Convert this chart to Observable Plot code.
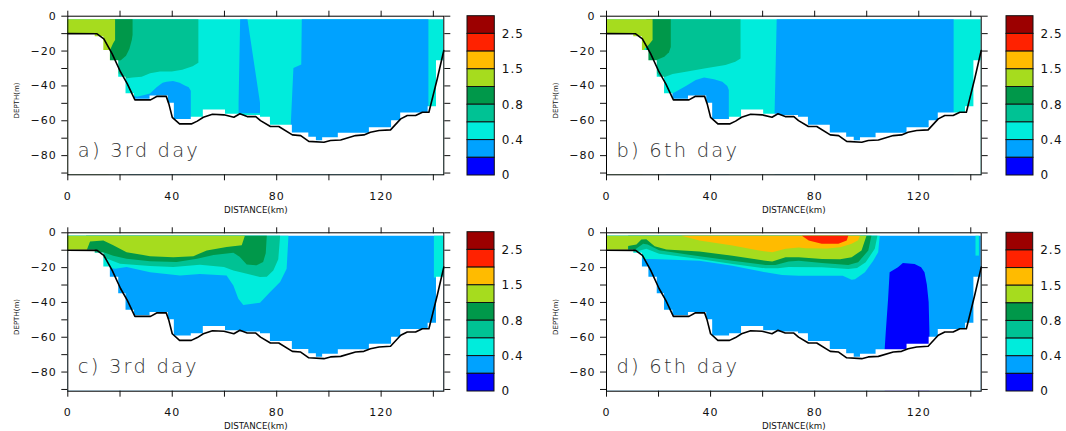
<!DOCTYPE html>
<html><head><meta charset="utf-8">
<script src="https://cdn.jsdelivr.net/npm/d3@7"></script>
<script src="https://cdn.jsdelivr.net/npm/@observablehq/plot@0.6"></script>
<style>
body{margin:0;background:#fff;}
#root{position:relative;width:1066px;height:431px;overflow:hidden;background:#fff;}
.p{position:absolute;}
.p svg{max-width:none !important;}
</style></head><body><div id="root"></div>
<script>
// ---------- data ----------
// colour classes, top of colour bar (>2.5) to bottom (0-0.2)
const CLASS_COLORS = ["#9c0000","#ff2200","#ffbb00","#a6dc1e","#00984a","#00c294","#00ecdc","#00a2ff","#0000ff"];
const LEVEL_TICKS = [0, 2, 4, 6, 8];
const LEVEL_LABELS = ["0", "0.4", "0.8", "1.5", "2.5"];
const X_DOMAIN = [0, 144];
const Y_DOMAIN = [-91, 0];
const X_TICKS = [0, 20, 40, 60, 80, 100, 120, 140];
const X_LABELED = [0, 40, 80, 120];
const Y_TICKS = [-90, -80, -70, -60, -50, -40, -30, -20, -10, 0];
const Y_LABELED = [0, -20, -40, -60, -80];
const PANEL_LABELS = ["a) 3rd day", "b) 6th day", "c) 3rd day", "d) 6th day"];

// bottom topography line [distance km, depth m]
const BATHY = [[0,-10],[11.2,-10.1],[13.8,-13],[17,-21.6],[20.2,-32],[22.8,-38.8],[25.7,-48],[31.7,-48],[34.2,-45.9],[37.7,-46],[38.7,-50.3],[40,-58],[42.8,-61.8],[47.3,-61.8],[49.6,-60.2],[51.9,-58],[55.4,-56.3],[59.8,-56.6],[63.6,-58],[65.9,-56],[68.7,-57.6],[72,-57.6],[73.8,-59.9],[77.6,-63.3],[80.8,-63.3],[86,-68.1],[89.2,-68.5],[92.3,-71.8],[98.1,-72.3],[100.6,-71.3],[104.5,-71],[110.2,-68.5],[113.4,-68.1],[115.9,-66.6],[119.2,-65.6],[123.6,-65.2],[127.5,-58.9],[130,-57],[133.2,-57],[135.8,-55.1],[138.3,-55.1],[141.5,-35.9],[144,-19.7]];

// stepped lower limit of the gridded field [distance, depth]
const FILL_BOTTOM = [[0,-10],[10.5,-11.8],[13.8,-19.7],[16.3,-25.5],[19.5,-35],[22.3,-44.5],[25.5,-47.7],[31.5,-45.8],[38.5,-50],[40.8,-59.3],[47.3,-58],[51.9,-53.8],[60.4,-56.3],[66,-57],[73.8,-58],[77.6,-62.5],[86,-67],[92.3,-69.5],[95.2,-71.5],[97.6,-69.8],[103.6,-67.2],[115.5,-64],[124,-60],[127.5,-55.5],[138,-52],[141.2,-25.5],[144,-25.5]];

// filled regions, painted in order: c = colour class, pts = [distance, lower depth, upper depth]
const LAYERS_A = [
  {c:6, pts:[[0,-91,-2],[144,-91,-2]]},
  {c:5, pts:[[18,-30,-2],[19.5,-33,-2],[22,-36,-2],[25,-35.5,-2],[28.5,-35,-2],[31.7,-33,-2],[35.5,-32,-2],[40,-32,-2],[44,-31,-2],[48,-29,-2],[50.2,-27,-2]]},
  {c:4, pts:[[16.3,-26,-2],[18.5,-26,-2],[20.5,-25.5,-2],[22.5,-23,-2],[23.8,-19,-2],[24.7,-14,-2],[25,-11,-2]]},
  {c:3, pts:[[0,-91,-2],[15.8,-91,-2],[16.3,-20,-2],[17.5,-16,-2],[18.3,-14,-2]]},
  {c:7, pts:[[23.5,-91,-45],[26.6,-91,-46.5],[29.5,-91,-45.5],[31.7,-91,-44.6],[34.2,-91,-41],[36.5,-91,-38.5],[38,-91,-37.9],[40.5,-91,-37.5],[43,-91,-38.5],[45,-91,-40],[46.5,-91,-41],[47.3,-91,-43]]},
  {c:7, pts:[[65.6,-56,-50],[66.2,-56,-2],[69,-56,-2],[71.4,-56,-26],[73.8,-56,-50]]},
  {c:7, pts:[[85.6,-91,-62],[86.6,-91,-30],[89.6,-91,-28],[89.8,-91,-2],[138.3,-91,-2]]}
];
const LAYERS_B = [
  {c:6, pts:[[0,-91,-2],[144,-91,-2]]},
  {c:5, pts:[[18,-30,-2],[21.1,-36,-2],[25.6,-33.5,-2],[30.7,-32.1,-2],[38.3,-30.2,-2],[45.9,-28.3,-2],[49.7,-26.4,-2],[51.7,-24.5,-2]]},
  {c:4, pts:[[15.5,-26,-2],[17.9,-26,-2],[19.2,-25.5,-2],[22.4,-23.5,-2],[24.2,-21,-2],[24.9,-18,-2]]},
  {c:3, pts:[[0,-91,-2],[14,-91,-2],[14.8,-19,-2],[16.5,-16.5,-2],[17.9,-14,-2]]},
  {c:7, pts:[[23,-91,-46.5],[26.8,-91,-43.6],[30.7,-91,-40.4],[34.5,-91,-36.9],[37.7,-91,-35.4],[41.5,-91,-36.5],[44.7,-91,-37.9],[46.6,-91,-40.4],[47.2,-91,-42.7]]},
  {c:7, pts:[[64.8,-91,-55],[65.6,-91,-2],[133.6,-91,-2]]}
];
const LAYERS_C = [
  {c:7, pts:[[0,-91,-2],[144,-91,-2]]},
  {c:6, pts:[[0,-12,-2],[14,-20,-2],[18.3,-21,-2],[22.7,-20,-2],[31.7,-22.9,-2],[43.2,-24.8,-2],[50.8,-23.9,-2],[61,-24.8,-2],[63.6,-30.6,-2],[65.5,-38.2,-2],[67.4,-41.7,-2],[73.8,-40.5,-2],[77.6,-34.4,-2],[81.5,-28.6,-2],[84,-21,-2],[84.7,-2,-2]]},
  {c:5, pts:[[0,-11,-2],[15,-15,-2],[20.2,-18,-2],[31.7,-19.4,-2],[40.6,-20,-2],[50.8,-18.7,-2],[60,-20,-2],[63.6,-21.9,-2],[68,-23.5,-2],[73.8,-25.7,-2],[76.4,-25.5,-2],[78.9,-22,-2],[80.8,-15.5,-2],[81.5,-2,-2]]},
  {c:4, pts:[[7.2,-10.5,-2],[11,-11,-2],[13.8,-11.5,-2],[17.6,-13.5,-2],[22.7,-15.2,-2],[31.7,-16.7,-2],[41.9,-17.1,-2],[49.7,-15.2,-2],[56,-13,-2],[63.6,-11.8,-2],[66,-14,-2],[68.7,-18.5,-2],[72.5,-19,-2],[75,-17.1,-2],[76,-12,-2],[76.4,-2,-2]]},
  {c:3, pts:[[0,-12,-2],[7,-12,-2],[8.7,-5.3,-2],[13.8,-4.7,-2],[17.6,-7.5,-2],[22.7,-11.4,-2],[31.7,-13.7,-2],[40.6,-14.3,-2],[48.3,-13.7,-2],[53.4,-10.4,-2],[61,-8.5,-2],[66.8,-7.5,-2],[68,-2,-2]]},
  {c:6, pts:[[140.4,-26,-2],[144,-26,-2]]}
];
const LAYERS_D = [
  {c:7, pts:[[0,-91,-2],[144,-91,-2]]},
  {c:6, pts:[[0,-12,-2],[13,-14,-2],[14.7,-15.3,-2],[18,-15.3,-2],[35.9,-16.3,-2],[48.6,-19.2,-2],[61.3,-23,-2],[67.7,-24.5,-2],[74.1,-25,-2],[83,-25,-2],[91,-25,-2],[94.4,-27.2,-2],[95.7,-27,-2],[99.5,-23,-2],[102.7,-16.3,-2],[104.6,-11.4,-2],[105.2,-2,-2]]},
  {c:5, pts:[[0,-11,-2],[11.7,-11,-2],[15.5,-9.5,-2],[20.4,-12.3,-2],[35.9,-15.3,-2],[48.6,-18.2,-2],[61.3,-20.7,-2],[66,-20.7,-2],[70.2,-20,-2],[83,-20.1,-2],[93.1,-21.1,-2],[96.5,-20.5,-2],[99.8,-17.2,-2],[103.3,-9.5,-2],[104.3,-2,-2]]},
  {c:4, pts:[[8.5,-10.5,-2],[11,-10,-2],[14.3,-6.6,-2],[16,-7,-2],[20.4,-10.3,-2],[35.9,-13.8,-2],[48.6,-16.3,-2],[61.3,-18.8,-2],[65.1,-18.8,-2],[70.2,-16.8,-2],[74.1,-16.3,-2],[83,-17.6,-2],[93.1,-18.8,-2],[96.9,-17.2,-2],[100.8,-10.5,-2],[102,-2,-2]]},
  {c:3, pts:[[0,-12,-2],[8.4,-12,-2],[8.5,-7.9,-2],[11.7,-7,-2],[13.6,-4.2,-2],[15.5,-4,-2],[18.7,-8,-2],[23.2,-9.9,-2],[35.9,-11,-2],[48.6,-13.4,-2],[61.3,-16.3,-2],[63.9,-16.8,-2],[69,-14.3,-2],[74.1,-14.3,-2],[83,-15.3,-2],[90,-15.5,-2],[94.4,-14.3,-2],[98.2,-10.5,-2],[100.1,-2,-2]]},
  {c:2, pts:[[28.9,-2,-2],[35.9,-4.7,-2],[48.6,-7.6,-2],[58.8,-10.5,-2],[63.9,-11.5,-2],[69,-9.5,-2],[74.1,-8.7,-2],[76.6,-9.1,-2],[85,-9.3,-2],[90,-8.6,-2],[94.4,-6.6,-2],[96.9,-4.5,-2],[97.6,-2,-2]]},
  {c:1, pts:[[75.3,-2,-2],[77.9,-4.7,-2],[82.9,-6.6,-2],[89.3,-6.6,-2],[92.5,-4.7,-2],[93.1,-2,-2]]},
  {c:8, pts:[[107.1,-91,-67],[107.5,-91,-57.6],[108.4,-91,-38.4],[109,-91,-23],[112.2,-91,-20.1],[114.1,-91,-17.6],[118.6,-91,-18.2],[121.1,-91,-20.1],[122.4,-91,-23],[123.3,-91,-30],[124,-91,-40],[124.3,-91,-58]]},
  {c:6, pts:[[142,-13.4,-2],[143.3,-13.4,-2]]}
];

// ---------- layout ----------
const LAYOUT = [
  {layers: LAYERS_A, label: PANEL_LABELS[0], left: 0,   top: 0,   h: 215, mt: 15.7, mb: 40.7, ml: 67.3, mr: 89.7, cb: {left: 466.7, w: 27.3, top: 15.7, bottom: 175}},
  {layers: LAYERS_B, label: PANEL_LABELS[1], left: 533, top: 0,   h: 215, mt: 15.7, mb: 40.7, ml: 73,   mr: 85.3, cb: {left: 1005.7, w: 27, top: 15.7, bottom: 175}},
  {layers: LAYERS_C, label: PANEL_LABELS[2], left: 0,   top: 215, h: 216, mt: 17.3, mb: 40.3, ml: 67.3, mr: 89.7, cb: {left: 467.3, w: 27, top: 231.7, bottom: 391}},
  {layers: LAYERS_D, label: PANEL_LABELS[3], left: 533, top: 215, h: 216, mt: 17.3, mb: 40.3, ml: 73,   mr: 85.3, cb: {left: 1006, w: 26.7, top: 232.3, bottom: 391}}
];

const fmt = d => d < 0 ? "\u2212" + (-d) : String(d);
const root = document.getElementById("root");
const baseStyle = {fontFamily: "DejaVu Sans, Verdana, sans-serif", fontSize: "11px", letterSpacing: "1px", color: "#111", background: "transparent", overflow: "visible", maxWidth: "none"};

function place(node, left, top, w, h) {
  const div = document.createElement("div");
  div.className = "p";
  div.style.left = left + "px";
  div.style.top = top + "px";
  div.style.width = w + "px";
  div.style.height = h + "px";
  div.appendChild(node);
  root.appendChild(div);
}

for (const P of LAYOUT) {
  const marks = [];
  for (const L of P.layers) {
    marks.push(Plot.areaY(L.pts, {x: d => d[0], y1: d => d[1], y2: d => d[2], fill: CLASS_COLORS[L.c], curve: "linear"}));
  }
  marks.push(Plot.areaY(FILL_BOTTOM, {x: d => d[0], y1: Y_DOMAIN[0], y2: d => d[1], fill: "white", curve: "step-after"}));
  marks.push(Plot.line(BATHY, {x: d => d[0], y: d => d[1], stroke: "#000", strokeWidth: 1.6, strokeLinejoin: "round"}));
  marks.push(Plot.frame({stroke: "#000", strokeWidth: 1}));
  marks.push(Plot.axisX({anchor: "bottom", ticks: X_TICKS, tickSize: 6, tickPadding: 11, tickFormat: d => X_LABELED.includes(d) ? fmt(d) : "", label: null}));
  marks.push(Plot.axisX({anchor: "top", ticks: X_TICKS, tickSize: 6, tickFormat: () => "", label: null}));
  marks.push(Plot.axisY({anchor: "left", ticks: Y_TICKS, tickSize: 6, tickPadding: 5, tickFormat: d => Y_LABELED.includes(d) ? fmt(d) : "", label: null}));
  marks.push(Plot.axisY({anchor: "right", ticks: Y_TICKS, tickSize: 6, tickFormat: () => "", label: null}));
  marks.push(Plot.text([P.label], {text: d => d, frameAnchor: "bottom-left", dx: 10, dy: -18, textAnchor: "start", lineAnchor: "bottom", fontSize: 19.5, fontWeight: 200, fill: "#333"}));
  marks.push(Plot.text(["DISTANCE(km)"], {text: d => d, frameAnchor: "bottom", dy: 38, textAnchor: "middle", lineAnchor: "bottom", fontSize: 8.7, fill: "#111"}));
  marks.push(Plot.text(["DEPTH(m)"], {text: d => d, frameAnchor: "left", dx: -51, dy: 5, rotate: -90, textAnchor: "middle", lineAnchor: "middle", fontSize: 7, fill: "#111"}));

  const svg = Plot.plot({
    width: 533, height: P.h,
    marginLeft: P.ml, marginRight: P.mr, marginTop: P.mt, marginBottom: P.mb,
    x: {domain: X_DOMAIN, axis: null},
    y: {domain: Y_DOMAIN, axis: null},
    style: baseStyle,
    marks
  });
  d3.select(svg).selectAll("text").each(function() {
    const t = this.textContent;
    if (t === "DISTANCE(km)" || t === "DEPTH(m)") this.style.letterSpacing = "0px";
    if (PANEL_LABELS.includes(t)) this.style.letterSpacing = "2.2px";
  });
  place(svg, P.left, P.top, 533, P.h);

  // colour bar
  const cb = P.cb;
  const cbW = 80, cbML = 10;
  const bar = Plot.plot({
    width: cbW, height: P.h,
    marginLeft: cbML, marginRight: cbW - cbML - cb.w,
    marginTop: cb.top - P.top, marginBottom: P.top + P.h - cb.bottom,
    x: {domain: [0, 1], axis: null},
    y: {domain: [0, 9], axis: null},
    color: {type: "identity"},
    style: Object.assign({}, baseStyle, {fontSize: "12px"}),
    marks: [
      Plot.rect(CLASS_COLORS, {x1: 0, x2: 1, y1: (d, i) => 8 - i, y2: (d, i) => 9 - i, fill: d => d, stroke: "#111", strokeWidth: 1}),
      Plot.axisY({anchor: "right", ticks: LEVEL_TICKS, tickSize: 0, tickPadding: 7, tickFormat: d => LEVEL_LABELS[LEVEL_TICKS.indexOf(d)], label: null})
    ]
  });
  place(bar, cb.left - cbML, P.top, cbW, P.h);
}
</script>
</body></html>
